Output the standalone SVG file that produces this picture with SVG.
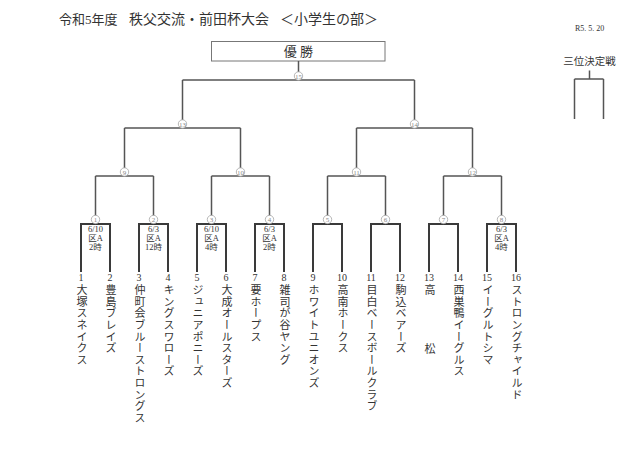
<svg xmlns="http://www.w3.org/2000/svg" width="640" height="451" viewBox="0 0 640 451">
<style>
text{font-family:"Liberation Serif","Noto Sans CJK JP",serif;fill:#333}
.title{font-size:14px}
.small{font-size:8px}
.br{fill:none;stroke:#555;stroke-width:1.5}
.leaf{fill:none;stroke:#3a3a3a;stroke-width:2}
.win{fill:#fff;stroke:#777;stroke-width:1}
.mc{fill:#fff;stroke:#999;stroke-width:0.7}
.ml{font-size:7px;fill:#888;text-anchor:middle}
.info{font-size:8.5px;text-anchor:middle}
.num{font-size:10px;text-anchor:middle}
.team{font-size:11px;writing-mode:vertical-rl;letter-spacing:0.6px}
</style>
<rect width="640" height="451" fill="#fff"/>
<g id="header">
<text x="59" y="24" class="title" style="font-size:13px">令和5年度</text>
<text x="129" y="24" class="title">秩父交流・前田杯大会</text>
<text x="280" y="24" class="title">＜小学生の部＞</text>
<text x="575" y="31" class="small">R5. 5. 20</text>
</g>
<g id="champion">
<rect x="211.5" y="41.5" width="173.5" height="19.5" class="win"/>
<text x="298.5" y="56" style="font-size:13px" text-anchor="middle">優 勝</text>
</g>
<g id="third-place">
<text x="589.5" y="65" style="font-size:10.5px" text-anchor="middle">三位決定戦</text>
<path d="M589.5 70.5V79M574.5 79H603.5M574.5 79V119M603.5 79V119" class="br"/>
</g>
<g id="connectors">
<path class="br" d="M298.5 61V80M182.5 80H414.5M182.5 80V128M414.5 80V128
M124.5 128H240.5M356.5 128H472.5
M124.5 128V176M240.5 128V176M356.5 128V176M472.5 128V176
M95.5 176H153.5M211.5 176H269.5M327.5 176H385.5M443.5 176H501.5
M95.5 176V224M153.5 176V224M211.5 176V224M269.5 176V224M327.5 176V224M385.5 176V224M443.5 176V224M501.5 176V224"/>
<path class="leaf" d="M81 272V224H110V272M139 272V224H168V272M197 272V224H226V272M255 272V224H284V272M313 272V224H342V272M371 272V224H400V272M429 272V224H458V272M487 272V224H516V272"/>
</g>
<g id="match-labels">
<g id="m15"><circle cx="298.5" cy="76" r="4.2" class="mc"/><text x="298.5" y="78.5" class="ml">15</text></g>
<g id="m13"><circle cx="182.5" cy="124" r="4.2" class="mc"/><text x="182.5" y="126.5" class="ml">13</text></g>
<g id="m14"><circle cx="414.5" cy="124" r="4.2" class="mc"/><text x="414.5" y="126.5" class="ml">14</text></g>
<g id="m9"><circle cx="124.5" cy="172" r="4.2" class="mc"/><text x="124.5" y="174.5" class="ml">9</text></g>
<g id="m10"><circle cx="240.5" cy="172" r="4.2" class="mc"/><text x="240.5" y="174.5" class="ml">10</text></g>
<g id="m11"><circle cx="356.5" cy="172" r="4.2" class="mc"/><text x="356.5" y="174.5" class="ml">11</text></g>
<g id="m12"><circle cx="472.5" cy="172" r="4.2" class="mc"/><text x="472.5" y="174.5" class="ml">12</text></g>
<g id="m1"><circle cx="95.5" cy="219.5" r="4.2" class="mc"/><text x="95.5" y="222" class="ml">1</text></g>
<g id="m2"><circle cx="153.5" cy="219.5" r="4.2" class="mc"/><text x="153.5" y="222" class="ml">2</text></g>
<g id="m3"><circle cx="211.5" cy="219.5" r="4.2" class="mc"/><text x="211.5" y="222" class="ml">3</text></g>
<g id="m4"><circle cx="269.5" cy="219.5" r="4.2" class="mc"/><text x="269.5" y="222" class="ml">4</text></g>
<g id="m5"><circle cx="327.5" cy="219.5" r="4.2" class="mc"/><text x="327.5" y="222" class="ml">5</text></g>
<g id="m6"><circle cx="385.5" cy="219.5" r="4.2" class="mc"/><text x="385.5" y="222" class="ml">6</text></g>
<g id="m7"><circle cx="443.5" cy="219.5" r="4.2" class="mc"/><text x="443.5" y="222" class="ml">7</text></g>
<g id="m8"><circle cx="501.5" cy="219.5" r="4.2" class="mc"/><text x="501.5" y="222" class="ml">8</text></g>
</g>
<g id="match-info">
<g id="info1"><text x="95.5" y="231.5" class="info">6/10</text><text x="95.5" y="240.5" class="info">区A</text><text x="95.5" y="249.5" class="info">2時</text></g>
<g id="info2"><text x="153.5" y="231.5" class="info">6/3</text><text x="153.5" y="240.5" class="info">区A</text><text x="153.5" y="249.5" class="info">12時</text></g>
<g id="info3"><text x="211.5" y="231.5" class="info">6/10</text><text x="211.5" y="240.5" class="info">区A</text><text x="211.5" y="249.5" class="info">4時</text></g>
<g id="info4"><text x="269.5" y="231.5" class="info">6/3</text><text x="269.5" y="240.5" class="info">区A</text><text x="269.5" y="249.5" class="info">2時</text></g>
<g id="info8"><text x="501.5" y="231.5" class="info">6/3</text><text x="501.5" y="240.5" class="info">区A</text><text x="501.5" y="249.5" class="info">4時</text></g>
</g>
<g id="teams">
<g id="t1"><text x="81" y="281" class="num">1</text><text x="81" y="284.5" class="team">大塚スネイクス</text></g>
<g id="t2"><text x="110" y="281" class="num">2</text><text x="110" y="284.5" class="team">豊島ブレイズ</text></g>
<g id="t3"><text x="139" y="281" class="num">3</text><text x="139" y="284.5" class="team">仲町会ブルーストロングス</text></g>
<g id="t4"><text x="168" y="281" class="num">4</text><text x="168" y="284.5" class="team">キングスワローズ</text></g>
<g id="t5"><text x="197" y="281" class="num">5</text><text x="197" y="284.5" class="team">ジュニアポニーズ</text></g>
<g id="t6"><text x="226" y="281" class="num">6</text><text x="226" y="284.5" class="team">大成オールスターズ</text></g>
<g id="t7"><text x="255" y="281" class="num">7</text><text x="255" y="284.5" class="team">要ホープス</text></g>
<g id="t8"><text x="284" y="281" class="num">8</text><text x="284" y="284.5" class="team">雑司が谷ヤング</text></g>
<g id="t9"><text x="313" y="281" class="num">9</text><text x="313" y="284.5" class="team">ホワイトユニオンズ</text></g>
<g id="t10"><text x="342" y="281" class="num">10</text><text x="342" y="284.5" class="team">高南ホークス</text></g>
<g id="t11"><text x="371" y="281" class="num">11</text><text x="371" y="284.5" class="team">目白ベースボールクラブ</text></g>
<g id="t12"><text x="400" y="281" class="num">12</text><text x="400" y="284.5" class="team">駒込ベアーズ</text></g>
<g id="t13"><text x="429" y="281" class="num">13</text><text x="429" y="284.5" class="team">高</text><text x="429" y="343.5" class="team">松</text></g>
<g id="t14"><text x="458" y="281" class="num">14</text><text x="458" y="284.5" class="team">西巣鴨イーグルス</text></g>
<g id="t15"><text x="487" y="281" class="num">15</text><text x="487" y="284.5" class="team">イーグルトシマ</text></g>
<g id="t16"><text x="516" y="281" class="num">16</text><text x="516" y="284.5" class="team">ストロングチャイルド</text></g>
</g>
</svg>
